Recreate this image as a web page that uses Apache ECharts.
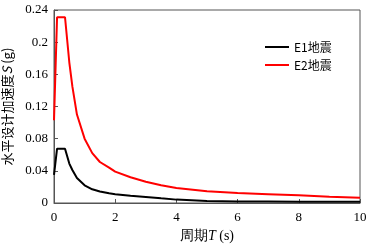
<!DOCTYPE html>
<html>
<head>
<meta charset="utf-8">
<script src="https://cdn.jsdelivr.net/npm/echarts@6/dist/echarts.min.js"></script>
<style>
  html, body { margin: 0; padding: 0; background: #fff; }
  #chart { width: 368px; height: 245px; }
</style>
</head>
<body>
<div id="chart"></div>
<script>
// periods (s) and spectral values (g)
const periods = [0, 0.1, 0.36, 0.5, 0.6, 0.75, 1, 1.25, 1.5, 1.8, 2, 2.5, 3, 3.5, 4, 5, 6, 7, 8, 9, 10]
const e1Values = [0.035, 0.0675, 0.0675, 0.049, 0.041, 0.031, 0.022, 0.017, 0.0144, 0.012, 0.011, 0.009, 0.0075, 0.0058, 0.0042, 0.0025, 0.002, 0.0018, 0.0016, 0.0015, 0.0014]
const e2Values = [0.103, 0.231, 0.231, 0.175, 0.145, 0.11, 0.08, 0.062, 0.051, 0.044, 0.039, 0.032, 0.0265, 0.022, 0.0186, 0.0145, 0.0125, 0.011, 0.0095, 0.0078, 0.0066]
const xTicks = [0, 2, 4, 6, 8, 10]
const yTicks = [0, 0.04, 0.08, 0.12, 0.16, 0.2, 0.24]
const seriesNames = ["E1地震", "E2地震"]

let myChart = echarts.init(document.getElementById("chart"))
const serif = "Liberation Serif"
const sans = "Noto Sans CJK SC"

myChart.setOption({
  animation: false,
  legend: {
    data: seriesNames,
    orient: "vertical",
    left: 260,
    top: 36,
    itemWidth: 24,
    itemHeight: 2,
    itemGap: 6,
    icon: "rect",
    textStyle: { fontFamily: sans, fontSize: 12, color: "#000" },
  },
  grid: {
    left: 54,
    right: 8,
    top: 10,
    bottom: 42,
    outerBoundsMode: "none",
    containLabel: false,
    show: true,
    borderColor: "#555",
    borderWidth: 1,
  },
  xAxis: {
    type: "value",
    min: 0,
    max: 10,
    interval: 2,
    name: "周期{i|T} (s)",
    nameLocation: "middle",
    nameGap: 22,
    nameTextStyle: {
      fontFamily: serif,
      fontSize: 14,
      color: "#000",
      rich: { i: { fontStyle: "italic", fontFamily: serif, fontSize: 14, color: "#000" } },
    },
    axisLine: { lineStyle: { color: "#555" } },
    axisTick: { inside: true, length: 4, lineStyle: { color: "#555" } },
    splitLine: { show: false },
    axisLabel: {
      fontFamily: serif,
      fontSize: 13,
      color: "#000",
      margin: 8,
      formatter: (v) => (xTicks.includes(v) ? String(v) : ""),
    },
  },
  yAxis: {
    type: "value",
    min: 0,
    max: 0.24,
    interval: 0.04,
    name: "水平设计加速度{i|S} (g)",
    nameLocation: "middle",
    nameGap: 40,
    nameTextStyle: {
      fontFamily: sans,
      fontSize: 13,
      color: "#000",
      rich: { i: { fontStyle: "italic", fontFamily: sans, fontSize: 13, color: "#000" } },
    },
    axisLine: { show: true, lineStyle: { color: "#555" } },
    axisTick: { show: true, inside: true, length: 4, lineStyle: { color: "#555" } },
    splitLine: { show: false },
    axisLabel: {
      fontFamily: serif,
      fontSize: 13,
      color: "#000",
      margin: 6,
      formatter: (v) => {
        const t = yTicks.find((y) => Math.abs(y - v) < 1e-9)
        return t === undefined ? "" : String(t)
      },
    },
  },
  series: [
    {
      name: seriesNames[0],
      type: "line",
      symbol: "none",
      lineStyle: { color: "#000", width: 2 },
      itemStyle: { color: "#000" },
      data: periods.map((t, i) => [t, e1Values[i]]),
    },
    {
      name: seriesNames[1],
      type: "line",
      symbol: "none",
      lineStyle: { color: "#ff0000", width: 2 },
      itemStyle: { color: "#ff0000" },
      data: periods.map((t, i) => [t, e2Values[i]]),
    },
  ],
})
</script>
</body>
</html>
